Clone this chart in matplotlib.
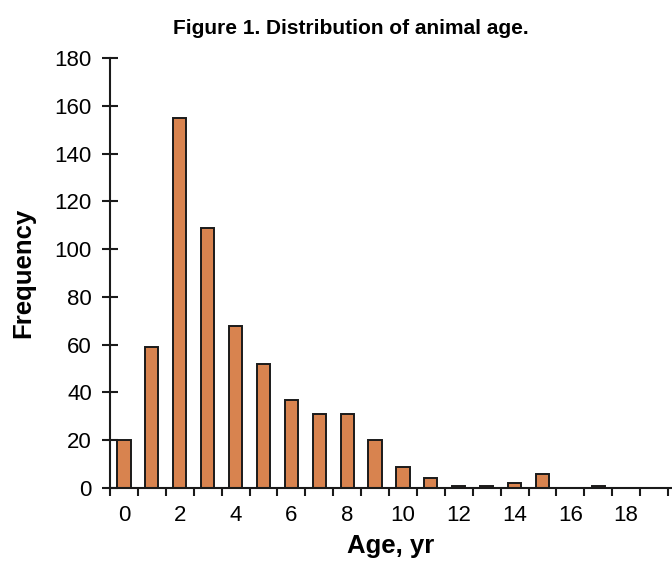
import matplotlib
matplotlib.use("Agg")
import matplotlib.pyplot as plt
import numpy as np

ages = list(range(20))
frequency = [20, 59, 155, 109, 68, 52, 37, 31, 31, 20, 9, 4, 1, 1, 2, 6, 0, 1, 0, 0]
tick_labels = [0, 2, 4, 6, 8, 10, 12, 14, 16, 18]
y_ticks = [0, 20, 40, 60, 80, 100, 120, 140, 160, 180]

plt.rcParams['font.family'] = ['Liberation Sans', 'DejaVu Sans']

fig = plt.figure(figsize=(6.72, 5.61), dpi=100)
W, H = 672, 561
ax = fig.add_axes([110 / W, 1 - 488 / H, (672 - 110) / W, (488 - 58) / H])

ax.bar(ages, frequency, width=0.47, color='#D8834F', edgecolor='#1a1a1a', linewidth=1.4, zorder=3)

ax.set_xlim(-0.5, -0.5 + (672 - 110) / 27.9)
ax.set_ylim(0, 180)

ax.spines['top'].set_visible(False)
ax.spines['right'].set_visible(False)
for s in ['left', 'bottom']:
    ax.spines[s].set_linewidth(1.5)
    ax.spines[s].set_color('#1a1a1a')
    ax.spines[s].set_zorder(4)

ax.set_yticks(y_ticks)
ax.tick_params(axis='y', direction='inout', length=12, width=1.5, color='#1a1a1a',
               labelsize=16, pad=7)
ax.set_xticks(tick_labels)
ax.set_xticklabels([str(t) for t in tick_labels])
ax.tick_params(axis='x', which='major', length=0, labelsize=16, pad=12)
ax.set_xticks(np.arange(-0.5, 20, 1), minor=True)
ax.tick_params(axis='x', which='minor', direction='out', length=6, width=1.5, color='#1a1a1a')

ax.set_xlabel('Age, yr', fontsize=18.5, fontweight='bold', labelpad=6)
ax.set_ylabel('Frequency', fontsize=18.5, fontweight='bold')
ax.yaxis.set_label_coords((35 - 110) / (672 - 110), 0.5)
fig.text(351 / W, 1 - 28 / H, 'Figure 1. Distribution of animal age.', ha='center', va='center',
         fontsize=15, fontweight='bold')

fig.savefig('out.png', dpi=100)
